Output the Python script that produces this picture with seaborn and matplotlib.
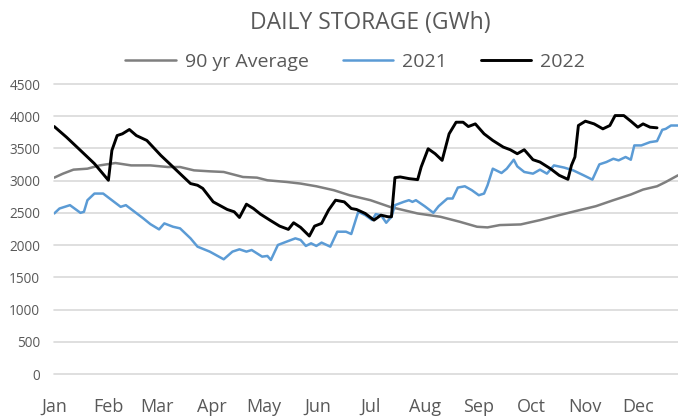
import pandas as pd
import matplotlib.pyplot as plt
import seaborn as sns

# day-of-year positions and storage values (GWh)
avg_days = [0, 5, 11, 19, 26, 35, 44, 55, 65, 72, 80, 89, 97, 108, 116, 122, 133, 141, 150,
            160, 169, 181, 192, 208, 221, 232, 242, 248, 255, 267, 278, 289, 299, 310, 320,
            330, 337, 345, 350, 357]
avg_vals = [3047, 3109, 3171, 3186, 3237, 3274, 3237, 3237, 3212, 3212, 3160, 3145, 3135, 3057,
            3047, 3006, 2980, 2955, 2913, 2852, 2774, 2697, 2594, 2491, 2440, 2363, 2285, 2275,
            2311, 2321, 2388, 2465, 2532, 2604, 2697, 2785, 2862, 2913, 2980, 3083]

y2021_days = [0, 3, 9, 15, 17, 19, 23, 28, 33, 38, 41, 46, 51, 55, 60, 63, 68, 72, 78, 82, 89,
              97, 102, 106, 110, 113, 119, 122, 124, 128, 133, 138, 141, 144, 147, 150, 153, 158,
              162, 167, 170, 174, 178, 182, 184, 187, 190, 193, 195, 200, 203, 205, 207, 212, 217,
              220, 225, 228, 231, 235, 239, 243, 246, 248, 251, 256, 259, 263, 265, 269, 274, 278,
              282, 286, 292, 297, 303, 308, 312, 316, 320, 323, 327, 330, 332, 336, 341, 345, 348,
              350, 353, 357]
y2021_vals = [2491, 2568, 2620, 2501, 2517, 2697, 2800, 2800, 2697, 2594, 2620, 2517, 2414, 2326,
              2244, 2337, 2285, 2260, 2105, 1976, 1899, 1780, 1899, 1935, 1899, 1924, 1821, 1832,
              1770, 2002, 2054, 2105, 2080, 1987, 2028, 1987, 2039, 1976, 2208, 2208, 2172, 2517,
              2465, 2388, 2481, 2465, 2347, 2440, 2620, 2671, 2697, 2671, 2697, 2604, 2501, 2604,
              2723, 2723, 2893, 2913, 2852, 2774, 2800, 2929, 3186, 3119, 3186, 3325, 3222, 3135,
              3109, 3171, 3109, 3237, 3202, 3160, 3083, 3016, 3253, 3289, 3340, 3315, 3367, 3325,
              3547, 3547, 3598, 3614, 3789, 3804, 3856, 3856]

y2022_days = [0, 7, 15, 23, 31, 33, 36, 39, 43, 47, 53, 61, 66, 72, 78, 82, 85, 91, 99, 103, 106,
              110, 114, 118, 124, 129, 134, 137, 141, 146, 149, 153, 157, 161, 166, 170, 173, 178,
              183, 187, 191, 193, 195, 198, 203, 208, 210, 214, 218, 222, 226, 230, 234, 237, 241,
              246, 251, 257, 261, 265, 269, 274, 278, 284, 289, 294, 296, 298, 300, 304, 309, 314,
              318, 321, 326, 330, 334, 337, 341, 345]
y2022_vals = [3840, 3675, 3470, 3264, 3006, 3470, 3700, 3727, 3794, 3700, 3624, 3392, 3264, 3109,
              2955, 2929, 2880, 2671, 2553, 2517, 2429, 2635, 2568, 2481, 2378, 2295, 2244, 2347,
              2275, 2141, 2295, 2337, 2543, 2697, 2671, 2568, 2553, 2491, 2388, 2465, 2440, 2440,
              3047, 3058, 3032, 3016, 3212, 3495, 3418, 3315, 3727, 3907, 3907, 3840, 3881, 3727,
              3624, 3521, 3480, 3418, 3480, 3325, 3289, 3186, 3083, 3021, 3237, 3367, 3856, 3923,
              3881, 3804, 3856, 4010, 4010, 3923, 3830, 3881, 3830, 3820]

month_labels = ['Jan', 'Feb', 'Mar', 'Apr', 'May', 'Jun', 'Jul', 'Aug', 'Sep', 'Oct', 'Nov', 'Dec']
month_starts = [0, 31, 59, 90, 120, 151, 181, 212, 243, 273, 304, 334]

avg_df = pd.DataFrame({'day': avg_days, 'value': avg_vals})
df21 = pd.DataFrame({'day': y2021_days, 'value': y2021_vals})
df22 = pd.DataFrame({'day': y2022_days, 'value': y2022_vals})

sns.set_style('white')
plt.rcParams['font.family'] = ['Open Sans', 'DejaVu Sans']
text_col = '#595959'

fig = plt.figure(figsize=(6.78, 4.2), dpi=100)
ax = fig.add_axes([0.080, 0.1095, 0.92, 0.6905])

sns.lineplot(data=avg_df, x='day', y='value', ax=ax, color='#7f7f7f', linewidth=1.8, label='90 yr Average')
sns.lineplot(data=df21, x='day', y='value', ax=ax, color='#5b9bd5', linewidth=1.8, label='2021')
sns.lineplot(data=df22, x='day', y='value', ax=ax, color='black', linewidth=2.1, label='2022')

ax.set_xlim(0, 357)
ax.set_ylim(0, 4500)
ax.set_yticks(range(0, 4501, 500))
ax.set_xticks(month_starts)
ax.set_xticklabels(month_labels, fontsize=13, color=text_col)
ax.tick_params(axis='y', labelsize=9.8, colors=text_col, length=0, pad=10)
ax.tick_params(axis='x', length=0, pad=17, colors=text_col)
ax.grid(axis='y', color='#d9d9d9', linewidth=1.2)
for gl in ax.get_ygridlines():
    gl.set_clip_on(False)
ax.set_axisbelow(True)
for s in ax.spines.values():
    s.set_visible(False)
ax.set_xlabel('')
ax.set_ylabel('')

handles, labels = ax.get_legend_handles_labels()
ax.legend_.remove()
fig.legend(handles, labels, loc='center', bbox_to_anchor=(0.524, 0.852), ncol=3, frameon=False,
           fontsize=14, handlelength=2.6, columnspacing=1.75, handletextpad=0.45, labelcolor=text_col)
fig.text(0.546, 0.945, 'DAILY STORAGE (GWh)', ha='center', va='center', fontsize=16.5, color=text_col)

fig.savefig('out.png', dpi=100)
